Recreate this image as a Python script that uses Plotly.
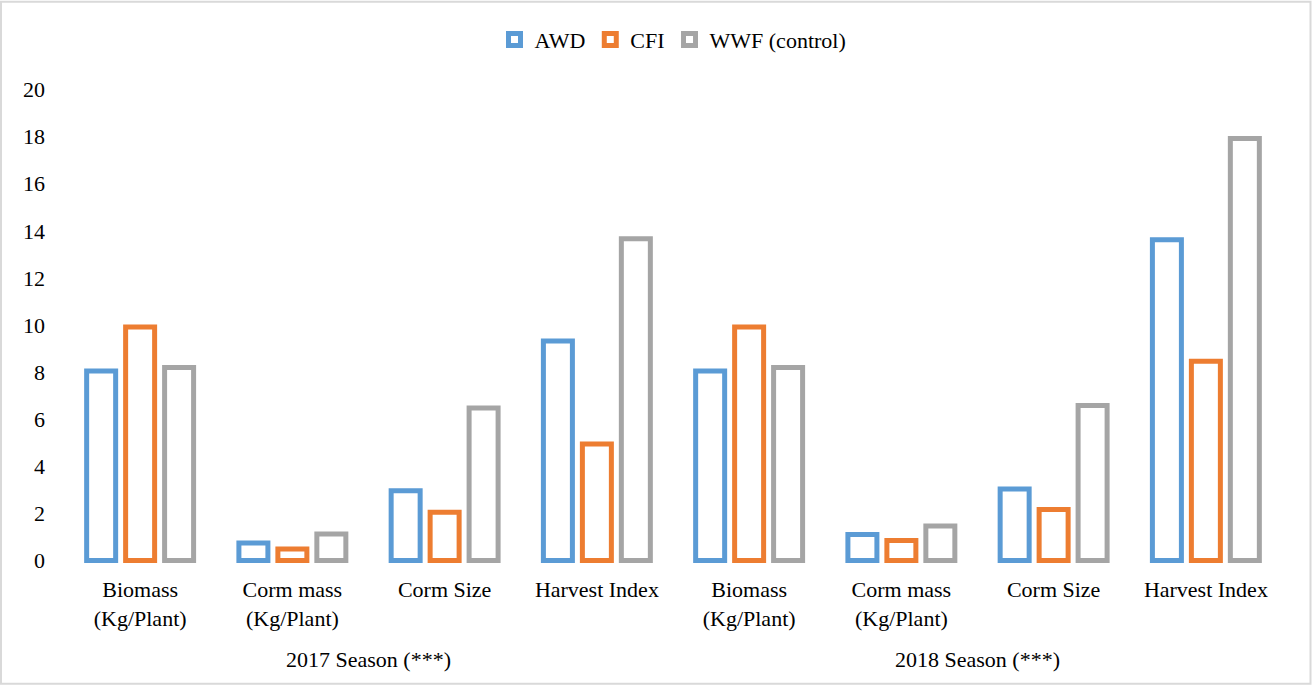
import plotly.graph_objects as go

# Treatment results per trait, two growing seasons
seasons = ["2017 Season (***)", "2018 Season (***)"]
traits = ["Biomass<br>(Kg/Plant)", "Corm mass<br>(Kg/Plant)", "Corm Size", "Harvest Index"]

awd = [8.05, 0.74, 2.96, 9.32, 8.05, 1.10, 3.04, 13.62]
cfi = [9.92, 0.49, 2.05, 4.95, 9.92, 0.85, 2.16, 8.46]
wwf = [8.20, 1.12, 6.47, 13.66, 8.20, 1.46, 6.58, 17.92]

series = [("AWD", awd, "#5B9BD5"), ("CFI", cfi, "#ED7D31"), ("WWF (control)", wwf, "#A5A5A5")]

W, H = 1312, 686
FONT = "Liberation Serif, Times New Roman, serif"
FS = 22

# plot area in pixels
L, R_EDGE, T, B_EDGE = 64, 1282, 85.5, 564.5

xpos = list(range(len(seasons) * len(traits)))
ticktext = traits * len(seasons)

fig = go.Figure()
for name, vals, col in series:
    fig.add_trace(go.Bar(
        x=xpos, y=vals, name=name,
        marker=dict(color="white", line=dict(color=col, width=5)),
    ))

# season labels under each group of four traits
for i, s in enumerate(seasons):
    fig.add_annotation(
        x=i * len(traits) + (len(traits) - 1) / 2, xref="x",
        y=(B_EDGE - 660) / (B_EDGE - T), yref="paper",
        text=s, showarrow=False, yanchor="middle",
        font=dict(family=FONT, size=FS, color="#000"),
    )

# light outer frame around the whole chart
pw, ph = R_EDGE - L, B_EDGE - T
fig.add_shape(
    type="rect", xref="paper", yref="paper",
    x0=(1 - L) / pw, x1=(W - 1.5 - L) / pw,
    y0=(B_EDGE - (H - 1.5)) / ph, y1=(B_EDGE - 1) / ph,
    line=dict(color="#D9D9D9", width=2), fillcolor="rgba(0,0,0,0)",
)

fig.update_layout(
    width=W, height=H,
    margin=dict(l=L, r=W - R_EDGE, t=T, b=H - B_EDGE, pad=0),
    paper_bgcolor="white", plot_bgcolor="white",
    barmode="group", bargap=0.232, bargroupgap=0.256,
    font=dict(family=FONT, size=FS, color="#000"),
    showlegend=True,
    legend=dict(
        orientation="h", x=0.5, xanchor="center",
        y=(B_EDGE - 39) / ph, yanchor="middle",
        font=dict(family=FONT, size=FS, color="#000"),
        itemwidth=30, traceorder="normal",
    ),
    xaxis=dict(
        range=[-0.5, len(xpos) - 0.5], tickmode="array",
        tickvals=xpos, ticktext=ticktext,
        showgrid=False, zeroline=False, showline=False, ticks="",
        tickfont=dict(family=FONT, size=FS, color="#000"),
        tickangle=0, ticklabelstandoff=10,
    ),
    yaxis=dict(
        range=[-0.15, 20.15], tickmode="array",
        tickvals=list(range(0, 21, 2)),
        showgrid=False, zeroline=False, showline=False, ticks="",
        tickfont=dict(family=FONT, size=FS, color="#000"),
        ticklabelstandoff=18,
    ),
)

fig.write_html("out.html")
